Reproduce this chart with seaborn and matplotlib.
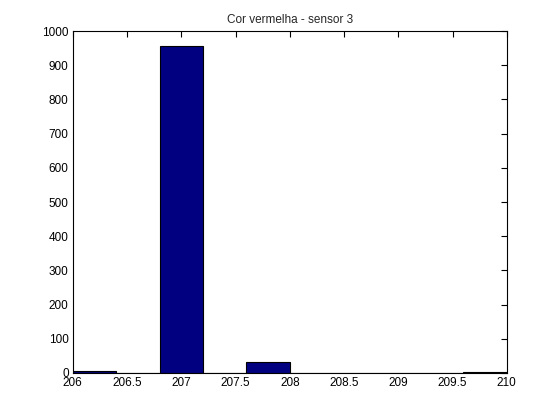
import matplotlib
matplotlib.use("Agg")
import matplotlib.pyplot as plt
import seaborn as sns
import numpy as np

bin_centers = [206.2, 206.6, 207.0, 207.4, 207.8, 208.2, 208.6, 209.0, 209.4, 209.8]
counts = [5, 0, 957, 0, 32, 0, 0, 0, 0, 4]
bin_edges = [206.0, 206.4, 206.8, 207.2, 207.6, 208.0, 208.4, 208.8, 209.2, 209.6, 210.0]
x_ticks = [206, 206.5, 207, 207.5, 208, 208.5, 209, 209.5, 210]
x_tick_labels = ["206", "206.5", "207", "207.5", "208", "208.5", "209", "209.5", "210"]
y_ticks = [0, 100, 200, 300, 400, 500, 600, 700, 800, 900, 1000]
title = "Cor vermelha - sensor 3"

sns.set_style("white")
plt.rcParams['font.family'] = ['Liberation Sans', 'DejaVu Sans']

fig = plt.figure(figsize=(5.6, 4.2), dpi=100)
ax = fig.add_axes([0.13, 0.112, 0.775, 0.814])
sns.histplot(x=bin_centers, weights=counts, bins=bin_edges, ax=ax,
             color=(0, 0, 0.5), edgecolor="black", linewidth=0.8, alpha=1.0)
ax.set_xlim(206, 210)
ax.set_ylim(0, 1000)
ax.set_xticks(x_ticks)
ax.set_xticklabels(x_tick_labels)
ax.set_yticks(y_ticks)
ax.set_xlabel("")
ax.set_ylabel("")
ax.set_title(title, fontsize=8.5, pad=6)
ax.tick_params(direction="in", top=True, right=True, labelsize=8.5, length=4, width=0.8, colors="black", pad=3)
for s in ax.spines.values():
    s.set_visible(True)
    s.set_color("black")
    s.set_linewidth(0.8)
fig.savefig("out.png", dpi=100, facecolor="white")
